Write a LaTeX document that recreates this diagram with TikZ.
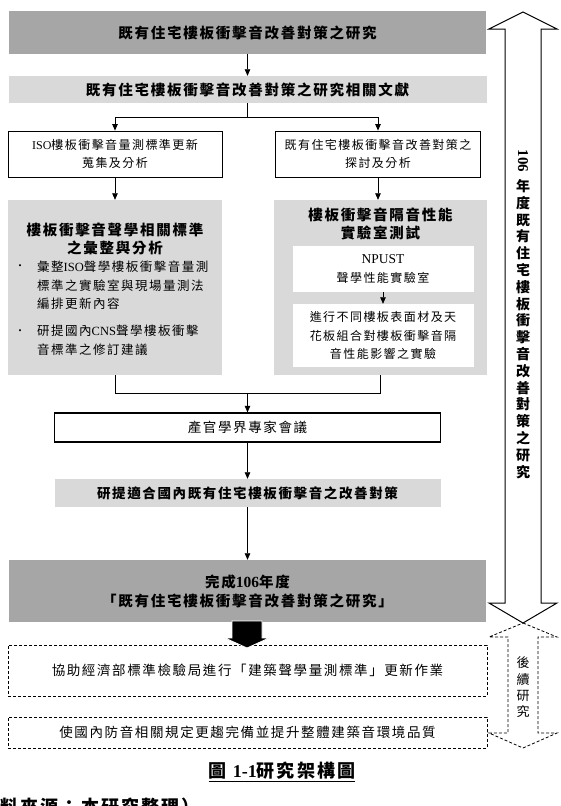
\documentclass[tikz,border=0pt]{standalone}
\usepackage{fontspec}
\setmainfont{Noto Sans CJK TC}[LetterSpace=12]
\newfontfamily\lat{Liberation Serif}
\usepackage{xcolor}
\usepackage{tikz}
\usetikzlibrary{arrows.meta, positioning}
\definecolor{boxdark}{HTML}{A6A6A6}
\definecolor{boxlight}{HTML}{D9D9D9}
\newcommand{\fsz}[2]{\fontsize{#1}{#2}\selectfont}

\begin{document}
\begin{tikzpicture}[
        x=1pt, y=-1pt,
        >={Triangle[width=5.5pt,length=6.5pt]},
        block/.style={inner sep=0pt, align=center},
        darkbox/.style={block, fill=boxdark, font=\fsz{14.5}{19}\bfseries},
        lightbox/.style={block, fill=boxlight, font=\fsz{14.5}{19}\bfseries},
        whitebox/.style={block, draw, line width=0.9pt, fill=white, font=\fsz{12}{18}},
        panel/.style={block, fill=boxlight, minimum width=214pt, minimum height=175pt},
        innerbox/.style={block, fill=white, minimum width=181pt, font=\fsz{12}{18.5}},
        notebox/.style={block, draw, dash pattern=on 3pt off 2pt, line width=0.8pt, minimum width=479pt, font=\fsz{13.5}{18}},
        flow/.style={->, line width=0.7pt},
        link/.style={line width=0.7pt}
    ]
        \useasboundingbox (0,0) rectangle (561,806);
        \clip (0,0) rectangle (561,806);

        % main column
        \node[darkbox, minimum width=477pt, minimum height=43pt] (goal) at (247.5,32.5) {既有住宅樓板衝擊音改善對策之研究};
        \node[lightbox, minimum width=478pt, minimum height=27pt] (review) at (247.5,89.5) {既有住宅樓板衝擊音改善對策之研究相關文獻};
        \node[whitebox, minimum width=214pt, minimum height=46pt] (iso) at (115,154) {{\lat ISO}樓板衝擊音量測標準更新\\蒐集及分析};
        \node[whitebox, minimum width=205pt, minimum height=46pt] (existing) at (378,154) {既有住宅樓板衝擊音改善對策之\\探討及分析};

        % left panel
        \node[panel] (standard) at (115,287.5) {};
        \node[block, font=\fsz{14.5}{18}\bfseries] (stdtitle) at (115,239) {樓板衝擊音聲學相關標準\\之彙整與分析};
        \node[block, font=\fsz{10}{12}] (dotA) at (20,267) {•};
        \node[block, anchor=west, align=left, font=\fsz{12.5}{18.5}] (itemA) at (37,285.5) {彙整{\lat ISO}聲學樓板衝擊音量測\\標準之實驗室與現場量測法\\編排更新內容};
        \node[block, font=\fsz{10}{12}] (dotB) at (20,332) {•};
        \node[block, anchor=west, align=left, font=\fsz{12.5}{18.5}] (itemB) at (37,340.5) {研提國內{\lat CNS}聲學樓板衝擊\\音標準之修訂建議};

        % right panel
        \node[panel, minimum width=213pt] (lab) at (380.5,287.5) {};
        \node[block, font=\fsz{14.5}{18}\bfseries] (labtitle) at (380.5,224) {樓板衝擊音隔音性能\\實驗室測試};
        \node[innerbox, minimum height=46pt] (npust) at (383,269) {{\lat\fsz{13.5}{18.5}NPUST}\\聲學性能實驗室};
        \node[innerbox, minimum height=63pt] (test) at (383,335.5) {進行不同樓板表面材及天\\花板組合對樓板衝擊音隔\\音性能影響之實驗};

        \node[whitebox, line width=1.3pt, minimum width=386pt, minimum height=29pt, font=\fsz{13.5}{18}] (expert) at (247.5,427.5) {產官學界專家會議};
        \node[lightbox, minimum width=386pt, minimum height=28pt, font=\fsz{13.5}{18}\bfseries] (improve) at (247.5,493) {研提適合國內既有住宅樓板衝擊音之改善對策};
        \node[darkbox, minimum width=477pt, minimum height=62pt] (final) at (247.5,591) {完成{\lat\fsz{15.5}{19}106}年度\\「既有住宅樓板衝擊音改善對策之研究」};

        % follow-up work
        \node[notebox, minimum height=51pt] (bsmi) at (247.5,670.5) {協助經濟部標準檢驗局進行「建築聲學量測標準」更新作業};
        \node[notebox, minimum height=31pt] (quality) at (247.5,732.5) {使國內防音相關規定更趨完備並提升整體建築音環境品質};

        \coordinate (split) at (247.5,117);
        \coordinate (merge) at (247.5,393);

        \draw[flow] (goal) -- (review);
        \draw[link] (review.south) -- (split);
        \draw[flow] (split) -| (iso.north);
        \draw[flow] (split) -| (existing.north);
        \draw[flow] (iso.south) -- (standard.north);
        \draw[flow] (existing.south) -- (existing.south |- lab.north);
        \draw[flow] (npust) -- (test);
        \draw[link] (standard.south) |- (merge);
        \draw[link] (lab.south) |- (merge);
        \draw[flow] (merge) -- (expert);
        \draw[flow] (expert) -- (improve);
        \draw[flow] (improve) -- (final);

        % block arrow into the follow-up boxes
        \filldraw[fill=black, draw=white, line width=0.8pt] (232,621) -- (262,621) -- (262,638) -- (269,638) -- (247,648) -- (225,638) -- (232,638) -- cycle;

        % side arrows
        \filldraw[fill=white, draw=black, line width=1pt] (523,12) -- (557,29) -- (541,29) -- (541,603) -- (557,603) -- (523,623) -- (489,603) -- (505,603) -- (505,29) -- (489,29) -- cycle;
        \draw[dash pattern=on 3pt off 2pt, line width=0.8pt] (523,623) -- (557,637) -- (538,637) -- (538,733) -- (557,733) -- (523,748) -- (489,733) -- (508,733) -- (508,637) -- (489,637) -- cycle;

        \node[block, rotate=-90, font=\lat\fsz{15}{16}\bfseries] (year) at (523,161) {106};
        \node[block, font=\fsz{14}{16.8}\bfseries] (spine) at (523,329) {年\\度\\既\\有\\住\\宅\\樓\\板\\衝\\擊\\音\\改\\善\\對\\策\\之\\研\\究};
        \node[block, font=\fsz{13}{16.3}] (later) at (523,687.5) {後\\續\\研\\究};

        % caption
        \node[block, font=\fsz{18}{22}\bfseries] (caption) at (282,772) {\underline{圖 {\lat 1-1}研究架構圖}};
        \node[block, anchor=base west, font=\fsz{18}{22}\bfseries] (source) at (-40,813) {（資料來源：本研究整理）};
    \end{tikzpicture}
\end{document}
